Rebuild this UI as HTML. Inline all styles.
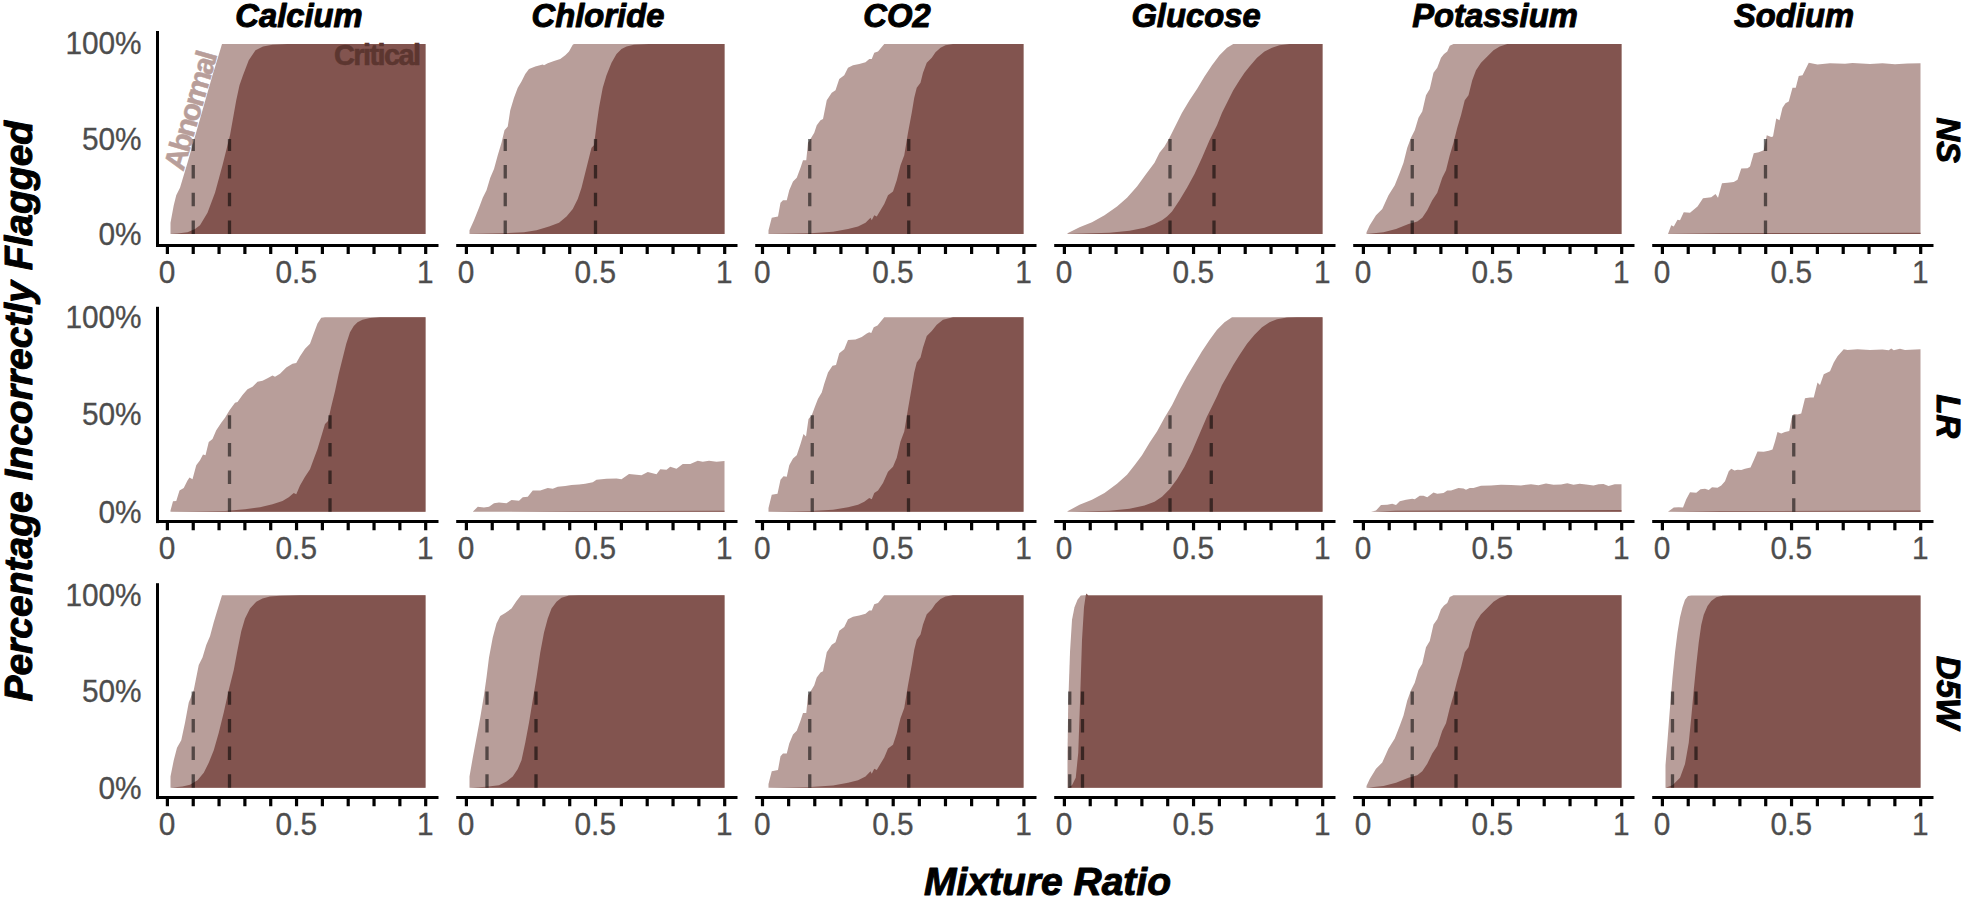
<!DOCTYPE html>
<html lang="en"><head><meta charset="utf-8"><title>Percentage Incorrectly Flagged by Mixture Ratio</title>
<style>html,body{margin:0;padding:0;background:#fff}svg{display:block}text{font-family:"Liberation Sans", Arial, Helvetica, sans-serif}</style></head><body>
<svg width="1964" height="899" viewBox="0 0 1964 899">
<rect width="1964" height="899" fill="#fff"/>
<g>
<polygon fill="#B89E9A" points="170.5,234 170.5,222.75 173.75,205.25 176.25,195.25 180,187.75 183.75,175.25 187.5,162.75 192.5,145.25 197.5,127.75 202.5,110.25 207.5,92.75 212.5,75.25 217.5,59 222,44 425.5,44 425.5,234"/>
<polygon fill="#82544F" points="170.5,234 177.5,233.5 187.5,232.25 195,229 200,225.25 207.5,212.75 215,192.75 222.5,165.25 230,135.25 236.25,100.25 239.5,85.25 243,75.25 248.75,60.25 255.5,50.25 263,46.5 272.5,44.75 287.5,44 425.5,44 425.5,234"/>
<line x1="193.25" y1="234" x2="193.25" y2="139" stroke="#000" stroke-opacity="0.55" stroke-width="3.3" stroke-dasharray="13.5 14.2"/>
<line x1="229.5" y1="234" x2="229.5" y2="139" stroke="#000" stroke-opacity="0.55" stroke-width="3.3" stroke-dasharray="13.5 14.2"/>
<path d="M156 245.4H438.5" stroke="#000" stroke-width="3" fill="none"/>
<path d="M167.4 245.4V254M193.23 245.4V254M219.06 245.4V254M244.89 245.4V254M270.72 245.4V254M296.55 245.4V254M322.38 245.4V254M348.21 245.4V254M374.04 245.4V254M399.87 245.4V254M425.7 245.4V254" stroke="#000" stroke-width="3.2" fill="none"/>
<text transform="translate(167.1 282.7) scale(1 1.03)" font-size="29.8" fill="#4D4D4D" stroke="#4D4D4D" stroke-width="0.3" text-anchor="middle">0</text>
<text transform="translate(296.25 282.7) scale(1 1.03)" font-size="29.8" fill="#4D4D4D" stroke="#4D4D4D" stroke-width="0.3" text-anchor="middle">0.5</text>
<text transform="translate(425.4 282.7) scale(1 1.03)" font-size="29.8" fill="#4D4D4D" stroke="#4D4D4D" stroke-width="0.3" text-anchor="middle">1</text>
</g>
<g>
<polygon fill="#B89E9A" points="469.5,234 469.5,230.25 474,220.25 479,207.75 482.75,197.75 486.5,190.25 490.25,177.75 494,169 497.75,155.25 501.5,142.75 504.5,130.25 507.75,126.5 510.25,110.25 514,97.75 517.75,87.75 521.5,81.5 525.25,74 529,69 535.25,66.5 542.75,64.5 544,65.25 547.75,63.25 554,61 560.25,59 565.25,55.25 569,51.5 572.75,44.75 574,44 724.5,44 724.5,234"/>
<polygon fill="#82544F" points="469.5,234 504,233.25 524,232.25 536.5,230.25 549,226.5 559,222.75 566.5,216.5 572.75,209 577.75,199 581.5,187.75 585.25,172.75 589,157.75 591.5,147.75 594,145.25 596.5,125.25 599,107.75 602.75,87.75 606.5,75.25 611.5,62.75 616.5,54 621.5,49 626.5,46.5 634,44.75 649,44 724.5,44 724.5,234"/>
<line x1="505.25" y1="234" x2="505.25" y2="139" stroke="#000" stroke-opacity="0.55" stroke-width="3.3" stroke-dasharray="13.5 14.2"/>
<line x1="595.5" y1="234" x2="595.5" y2="139" stroke="#000" stroke-opacity="0.55" stroke-width="3.3" stroke-dasharray="13.5 14.2"/>
<path d="M456.2 245.4H737.5" stroke="#000" stroke-width="3" fill="none"/>
<path d="M466.4 245.4V254M492.23 245.4V254M518.06 245.4V254M543.89 245.4V254M569.72 245.4V254M595.55 245.4V254M621.38 245.4V254M647.21 245.4V254M673.04 245.4V254M698.87 245.4V254M724.7 245.4V254" stroke="#000" stroke-width="3.2" fill="none"/>
<text transform="translate(466.1 282.7) scale(1 1.03)" font-size="29.8" fill="#4D4D4D" stroke="#4D4D4D" stroke-width="0.3" text-anchor="middle">0</text>
<text transform="translate(595.25 282.7) scale(1 1.03)" font-size="29.8" fill="#4D4D4D" stroke="#4D4D4D" stroke-width="0.3" text-anchor="middle">0.5</text>
<text transform="translate(724.4 282.7) scale(1 1.03)" font-size="29.8" fill="#4D4D4D" stroke="#4D4D4D" stroke-width="0.3" text-anchor="middle">1</text>
</g>
<g>
<polygon fill="#B89E9A" points="768.5,234 768.5,230.25 771.75,217.75 778,216.5 780.5,202.75 783,200.25 786.75,200.25 789.25,190.25 793,181.5 796.75,177.75 800.5,167.75 803,160.25 806.25,160.25 808,142.75 810.5,139 814.25,132.75 816.75,125.25 820.5,120.25 823,119 826.75,100.25 831.75,92.75 835.5,90.25 839.25,79 844.25,75.25 848,67.75 853,65.25 859.25,64 865.5,62.25 869.25,59 871.75,59 874.25,52.75 878,51.5 884.25,44 1023.5,44 1023.5,234"/>
<polygon fill="#82544F" points="768.5,234 810.5,233.25 833,231.75 848,229 858,226.5 865.5,222.75 870.5,217.75 871.75,220.25 874.25,215.25 876.75,216.5 880.5,210.25 884.25,204 888,195.25 893,191.5 896.75,180.25 900.5,165.25 904.25,155.25 908,132.75 911.75,112.75 914.25,97.75 916.75,87.75 920.5,82.75 923,72.75 926.75,62.75 931.75,57.75 935.5,52.25 940.5,47.75 945.5,45.25 953,44 1023.5,44 1023.5,234"/>
<line x1="809.75" y1="234" x2="809.75" y2="139" stroke="#000" stroke-opacity="0.55" stroke-width="3.3" stroke-dasharray="13.5 14.2"/>
<line x1="908.75" y1="234" x2="908.75" y2="139" stroke="#000" stroke-opacity="0.55" stroke-width="3.3" stroke-dasharray="13.5 14.2"/>
<path d="M755.2 245.4H1036.5" stroke="#000" stroke-width="3" fill="none"/>
<path d="M762.5 245.4V254M788.64 245.4V254M814.78 245.4V254M840.92 245.4V254M867.06 245.4V254M893.2 245.4V254M919.34 245.4V254M945.48 245.4V254M971.62 245.4V254M997.76 245.4V254M1023.9 245.4V254" stroke="#000" stroke-width="3.2" fill="none"/>
<text transform="translate(762.2 282.7) scale(1 1.03)" font-size="29.8" fill="#4D4D4D" stroke="#4D4D4D" stroke-width="0.3" text-anchor="middle">0</text>
<text transform="translate(892.9 282.7) scale(1 1.03)" font-size="29.8" fill="#4D4D4D" stroke="#4D4D4D" stroke-width="0.3" text-anchor="middle">0.5</text>
<text transform="translate(1023.6 282.7) scale(1 1.03)" font-size="29.8" fill="#4D4D4D" stroke="#4D4D4D" stroke-width="0.3" text-anchor="middle">1</text>
</g>
<g>
<polygon fill="#B89E9A" points="1067.5,233.25 1079.5,227.25 1092,222.25 1104.5,215.25 1117,206.5 1127,197.75 1137,186.5 1147,172.75 1154.5,162.75 1159.5,152.75 1164.5,146.5 1169.5,137.75 1174.5,127.75 1182,112.75 1189.5,100.25 1197,89 1204.5,76.5 1212,65.25 1219.5,55.25 1227,47.75 1233.25,44 1322.5,44 1322.5,234 1067.5,234"/>
<polygon fill="#82544F" points="1067.5,234 1109.5,232.75 1129.5,230.75 1144.5,227.75 1154.5,224 1162,220.25 1167,216.5 1172,211.5 1179.5,200.25 1187,187.75 1194.5,174 1202,157.75 1209.5,140.25 1217,125.25 1222,112.75 1227,102.75 1233.25,90.25 1239.5,80.25 1244.5,72.75 1249.5,66.5 1257,57.75 1264.5,51.5 1272,47.75 1279.5,45.25 1289.5,44 1322.5,44 1322.5,234"/>
<line x1="1170" y1="234" x2="1170" y2="139" stroke="#000" stroke-opacity="0.55" stroke-width="3.3" stroke-dasharray="13.5 14.2"/>
<line x1="1214" y1="234" x2="1214" y2="139" stroke="#000" stroke-opacity="0.55" stroke-width="3.3" stroke-dasharray="13.5 14.2"/>
<path d="M1054.2 245.4H1335.5" stroke="#000" stroke-width="3" fill="none"/>
<path d="M1064.4 245.4V254M1090.23 245.4V254M1116.06 245.4V254M1141.89 245.4V254M1167.72 245.4V254M1193.55 245.4V254M1219.38 245.4V254M1245.21 245.4V254M1271.04 245.4V254M1296.87 245.4V254M1322.7 245.4V254" stroke="#000" stroke-width="3.2" fill="none"/>
<text transform="translate(1064.1 282.7) scale(1 1.03)" font-size="29.8" fill="#4D4D4D" stroke="#4D4D4D" stroke-width="0.3" text-anchor="middle">0</text>
<text transform="translate(1193.25 282.7) scale(1 1.03)" font-size="29.8" fill="#4D4D4D" stroke="#4D4D4D" stroke-width="0.3" text-anchor="middle">0.5</text>
<text transform="translate(1322.4 282.7) scale(1 1.03)" font-size="29.8" fill="#4D4D4D" stroke="#4D4D4D" stroke-width="0.3" text-anchor="middle">1</text>
</g>
<g>
<polygon fill="#B89E9A" points="1366.5,234 1366.5,232.25 1369.75,225.25 1376,215.25 1382.25,209 1388.5,195.25 1394.75,185.25 1399.75,172.75 1403.5,162.75 1407.25,147.75 1411,137.75 1414.75,130.25 1418.5,117.75 1422.25,111.5 1426,95.25 1429.75,89 1433.5,72.75 1437.25,67.75 1441,57.75 1444,54 1447.25,51.5 1449.75,45.75 1453.5,44 1621.5,44 1621.5,234"/>
<polygon fill="#82544F" points="1366.5,234 1383.5,232.25 1396,229 1408.5,224 1417.25,221.5 1422.25,217.75 1427.25,210.25 1432.25,200.25 1437.25,192.75 1442.25,177.75 1446,170.25 1449.75,155.25 1453.5,142.75 1457.25,127.75 1461,115.25 1464.75,100.25 1468.5,95.25 1472.25,80.25 1476,70.25 1481,62.75 1487.25,56.5 1493.5,50.25 1499.75,46.5 1507.25,44 1621.5,44 1621.5,234"/>
<line x1="1412.25" y1="234" x2="1412.25" y2="139" stroke="#000" stroke-opacity="0.55" stroke-width="3.3" stroke-dasharray="13.5 14.2"/>
<line x1="1456" y1="234" x2="1456" y2="139" stroke="#000" stroke-opacity="0.55" stroke-width="3.3" stroke-dasharray="13.5 14.2"/>
<path d="M1353.2 245.4H1634.5" stroke="#000" stroke-width="3" fill="none"/>
<path d="M1363.4 245.4V254M1389.23 245.4V254M1415.06 245.4V254M1440.89 245.4V254M1466.72 245.4V254M1492.55 245.4V254M1518.38 245.4V254M1544.21 245.4V254M1570.04 245.4V254M1595.87 245.4V254M1621.7 245.4V254" stroke="#000" stroke-width="3.2" fill="none"/>
<text transform="translate(1363.1 282.7) scale(1 1.03)" font-size="29.8" fill="#4D4D4D" stroke="#4D4D4D" stroke-width="0.3" text-anchor="middle">0</text>
<text transform="translate(1492.25 282.7) scale(1 1.03)" font-size="29.8" fill="#4D4D4D" stroke="#4D4D4D" stroke-width="0.3" text-anchor="middle">0.5</text>
<text transform="translate(1621.4 282.7) scale(1 1.03)" font-size="29.8" fill="#4D4D4D" stroke="#4D4D4D" stroke-width="0.3" text-anchor="middle">1</text>
</g>
<g>
<polygon fill="#B89E9A" points="1668,234 1671.25,225.25 1673.75,226.5 1677.5,219.75 1680,220.25 1683.75,212.25 1690,212.75 1697.5,206.5 1703,198.25 1711.25,197.25 1715.5,194 1718,197.75 1722,183.25 1727.5,182.75 1733.75,182 1737.5,179.75 1741.25,168.5 1747.5,168.25 1750,166.5 1753.75,153.25 1758.75,152.25 1763.75,150.25 1766.75,135.25 1771.25,137 1773,136.5 1776.25,118.5 1779.5,120.25 1782.5,107.75 1785.5,103.25 1788.75,101.5 1792.5,87.75 1795.75,87.75 1798.75,76 1802.5,75.25 1808.75,62.75 1817.5,64.5 1830,63.25 1845,63.75 1852.5,63 1870,64 1882.5,63.25 1895,64.25 1907.5,63.5 1920.5,63.25 1920.5,234"/>
<polygon fill="#82544F" points="1668,234 1720,233.25 1820,233 1920.5,232.75 1920.5,234"/>
<line x1="1765.5" y1="234" x2="1765.5" y2="139" stroke="#000" stroke-opacity="0.55" stroke-width="3.3" stroke-dasharray="13.5 14.2"/>
<path d="M1652.2 245.4H1933.5" stroke="#000" stroke-width="3" fill="none"/>
<path d="M1662.4 245.4V254M1688.23 245.4V254M1714.06 245.4V254M1739.89 245.4V254M1765.72 245.4V254M1791.55 245.4V254M1817.38 245.4V254M1843.21 245.4V254M1869.04 245.4V254M1894.87 245.4V254M1920.7 245.4V254" stroke="#000" stroke-width="3.2" fill="none"/>
<text transform="translate(1662.1 282.7) scale(1 1.03)" font-size="29.8" fill="#4D4D4D" stroke="#4D4D4D" stroke-width="0.3" text-anchor="middle">0</text>
<text transform="translate(1791.25 282.7) scale(1 1.03)" font-size="29.8" fill="#4D4D4D" stroke="#4D4D4D" stroke-width="0.3" text-anchor="middle">0.5</text>
<text transform="translate(1920.4 282.7) scale(1 1.03)" font-size="29.8" fill="#4D4D4D" stroke="#4D4D4D" stroke-width="0.3" text-anchor="middle">1</text>
</g>
<path d="M157.5 31V246.9" stroke="#000" stroke-width="3" fill="none"/>
<text transform="translate(141.6 245.2) scale(1 1.03)" font-size="29.8" fill="#4D4D4D" stroke="#4D4D4D" stroke-width="0.3" text-anchor="end">0%</text>
<text transform="translate(141.6 149.7) scale(1 1.03)" font-size="29.8" fill="#4D4D4D" stroke="#4D4D4D" stroke-width="0.3" text-anchor="end">50%</text>
<text transform="translate(141.6 54) scale(1 1.03)" font-size="29.8" fill="#4D4D4D" stroke="#4D4D4D" stroke-width="0.3" text-anchor="end">100%</text>
<text transform="translate(1937 140.2) rotate(90) scale(1 1.015)" font-size="32.75" font-weight="bold" font-style="italic" text-anchor="middle" fill="#000" stroke="#000" stroke-width="1" stroke-linejoin="round">NS</text>
<g>
<polygon fill="#B89E9A" points="170.5,511.8 170.5,510.55 173,501.26 176.25,501.01 179.5,490.47 183.75,487.96 187.5,480.43 189.5,477.42 192.5,479.17 196.25,465.37 200,460.35 203,454.58 205.5,455.33 208.75,442.03 212.5,439.02 216.25,430.24 221.25,422.71 225,417.69 229.5,410.16 235,402.63 237.5,401.88 242.5,395.1 247.5,389.33 252.5,386.82 257.5,381.8 262.5,380.79 267.5,378.29 272.5,375.52 275,376.78 280,373.77 286.25,367.49 292.5,363.73 296.25,362.98 300,356.2 305,348.67 310,343.65 313.75,333.61 317.5,323.57 321.25,317.8 325,317.3 425.5,317.3 425.5,511.8"/>
<polygon fill="#82544F" points="170.5,511.8 225,511.05 245,509.29 260,507.28 272.5,504.27 282.5,501.01 288.75,497.24 293.75,492.98 296.25,494.23 300,485.45 305,476.66 310,469.14 313.75,459.1 317.5,449.06 321.25,436.51 325,423.96 328,420.95 331.25,406.39 335,391.34 338.75,373.77 342.5,358.71 346.25,343.65 350,332.36 353.75,326.08 357.5,322.32 362.5,319.81 370,318.05 380,317.3 425.5,317.3 425.5,511.8"/>
<line x1="229.5" y1="511.8" x2="229.5" y2="414.55" stroke="#000" stroke-opacity="0.55" stroke-width="3.3" stroke-dasharray="13.5 14.2"/>
<line x1="330" y1="511.8" x2="330" y2="414.55" stroke="#000" stroke-opacity="0.55" stroke-width="3.3" stroke-dasharray="13.5 14.2"/>
<path d="M156 521.6H438.5" stroke="#000" stroke-width="3" fill="none"/>
<path d="M167.4 521.6V530.2M193.23 521.6V530.2M219.06 521.6V530.2M244.89 521.6V530.2M270.72 521.6V530.2M296.55 521.6V530.2M322.38 521.6V530.2M348.21 521.6V530.2M374.04 521.6V530.2M399.87 521.6V530.2M425.7 521.6V530.2" stroke="#000" stroke-width="3.2" fill="none"/>
<text transform="translate(167.1 558.9) scale(1 1.03)" font-size="29.8" fill="#4D4D4D" stroke="#4D4D4D" stroke-width="0.3" text-anchor="middle">0</text>
<text transform="translate(296.25 558.9) scale(1 1.03)" font-size="29.8" fill="#4D4D4D" stroke="#4D4D4D" stroke-width="0.3" text-anchor="middle">0.5</text>
<text transform="translate(425.4 558.9) scale(1 1.03)" font-size="29.8" fill="#4D4D4D" stroke="#4D4D4D" stroke-width="0.3" text-anchor="middle">1</text>
</g>
<g>
<polygon fill="#B89E9A" points="472.75,511.8 477.75,506.78 484,507.53 489,506.78 494,503.27 499,502.51 506.5,503.27 511.5,500 519,500.76 522.75,497.24 527.75,496.74 532.75,490.47 540.25,490.47 547.75,487.96 552.75,488.71 557.75,486.7 565.25,485.95 571.5,484.95 579,484.44 585.25,483.69 592.75,482.19 596.5,479.68 606.5,478.67 616.5,478.42 621.5,479.17 629,473.9 636.5,474.66 641.5,475.16 647.75,471.9 656.5,474.15 660.25,469.14 666.5,469.64 670.25,466.63 676.5,468.63 682.75,464.12 690.25,464.12 697.75,460.85 702.75,461.86 709,460.85 716.5,461.86 724.5,461.1 724.5,511.8"/>
<polygon fill="#82544F" points="499,511.8 574,511.3 724.5,510.8 724.5,511.8"/>
<path d="M456.2 521.6H737.5" stroke="#000" stroke-width="3" fill="none"/>
<path d="M466.4 521.6V530.2M492.23 521.6V530.2M518.06 521.6V530.2M543.89 521.6V530.2M569.72 521.6V530.2M595.55 521.6V530.2M621.38 521.6V530.2M647.21 521.6V530.2M673.04 521.6V530.2M698.87 521.6V530.2M724.7 521.6V530.2" stroke="#000" stroke-width="3.2" fill="none"/>
<text transform="translate(466.1 558.9) scale(1 1.03)" font-size="29.8" fill="#4D4D4D" stroke="#4D4D4D" stroke-width="0.3" text-anchor="middle">0</text>
<text transform="translate(595.25 558.9) scale(1 1.03)" font-size="29.8" fill="#4D4D4D" stroke="#4D4D4D" stroke-width="0.3" text-anchor="middle">0.5</text>
<text transform="translate(724.4 558.9) scale(1 1.03)" font-size="29.8" fill="#4D4D4D" stroke="#4D4D4D" stroke-width="0.3" text-anchor="middle">1</text>
</g>
<g>
<polygon fill="#B89E9A" points="768.5,511.8 768.5,508.04 771.75,494.73 777.5,493.73 780.5,479.68 783.5,476.16 786.75,476.66 789.25,465.37 793,458.59 796.75,455.33 800.5,444.04 803.5,434 806,436.51 808.5,418.94 811.75,415.18 815,406.39 818,398.86 821.75,392.59 824.25,383.81 828,372.51 832.5,365.74 836,364.98 839.25,353.19 844.25,349.17 848,339.89 855.5,339.39 861.75,336.88 866.75,333.61 869.25,332.36 871.25,333.11 873.75,327.34 877.5,325.58 884.25,317.3 1023.5,317.3 1023.5,511.8"/>
<polygon fill="#82544F" points="768.5,511.8 810.5,511.05 833,509.79 848,507.28 858,504.77 864.25,501.76 869.25,498 871.75,499.25 874.25,492.98 878,490.47 883,482.94 888,471.65 893,466.63 896.75,457.84 900.5,441.53 904.25,431.49 908,408.9 911.75,387.57 914.25,372.51 916.75,362.47 920.5,357.45 923,347.42 926.75,336.12 931.75,331.1 936.75,324.83 943,319.81 953,317.3 1023.5,317.3 1023.5,511.8"/>
<line x1="812.25" y1="511.8" x2="812.25" y2="414.55" stroke="#000" stroke-opacity="0.55" stroke-width="3.3" stroke-dasharray="13.5 14.2"/>
<line x1="908.5" y1="511.8" x2="908.5" y2="414.55" stroke="#000" stroke-opacity="0.55" stroke-width="3.3" stroke-dasharray="13.5 14.2"/>
<path d="M755.2 521.6H1036.5" stroke="#000" stroke-width="3" fill="none"/>
<path d="M762.5 521.6V530.2M788.64 521.6V530.2M814.78 521.6V530.2M840.92 521.6V530.2M867.06 521.6V530.2M893.2 521.6V530.2M919.34 521.6V530.2M945.48 521.6V530.2M971.62 521.6V530.2M997.76 521.6V530.2M1023.9 521.6V530.2" stroke="#000" stroke-width="3.2" fill="none"/>
<text transform="translate(762.2 558.9) scale(1 1.03)" font-size="29.8" fill="#4D4D4D" stroke="#4D4D4D" stroke-width="0.3" text-anchor="middle">0</text>
<text transform="translate(892.9 558.9) scale(1 1.03)" font-size="29.8" fill="#4D4D4D" stroke="#4D4D4D" stroke-width="0.3" text-anchor="middle">0.5</text>
<text transform="translate(1023.6 558.9) scale(1 1.03)" font-size="29.8" fill="#4D4D4D" stroke="#4D4D4D" stroke-width="0.3" text-anchor="middle">1</text>
</g>
<g>
<polygon fill="#B89E9A" points="1067.5,511.3 1079.5,504.77 1092,499.75 1104.5,492.98 1117,483.69 1127,474.66 1134.5,465.37 1142,455.33 1149.5,442.78 1157,431.49 1164.5,417.69 1172,405.14 1179.5,390.08 1187,376.28 1194.5,363.73 1202,351.18 1209.5,339.89 1217,329.85 1224.5,322.32 1232,317.3 1322.5,317.3 1322.5,511.8 1067.5,511.8"/>
<polygon fill="#82544F" points="1067.5,511.8 1109.5,510.8 1129.5,508.79 1144.5,505.53 1154.5,501.76 1162,496.74 1169.5,489.21 1177,479.17 1184.5,466.63 1192,451.57 1199.5,434 1207,416.43 1212,406.39 1217,396.35 1222,385.06 1227,376.28 1233.25,364.98 1239.5,354.95 1247,343.65 1254.5,334.87 1262,327.34 1269.5,322.32 1277,319.31 1287,317.55 1297,317.3 1322.5,317.3 1322.5,511.8"/>
<line x1="1170" y1="511.8" x2="1170" y2="414.55" stroke="#000" stroke-opacity="0.55" stroke-width="3.3" stroke-dasharray="13.5 14.2"/>
<line x1="1211.25" y1="511.8" x2="1211.25" y2="414.55" stroke="#000" stroke-opacity="0.55" stroke-width="3.3" stroke-dasharray="13.5 14.2"/>
<path d="M1054.2 521.6H1335.5" stroke="#000" stroke-width="3" fill="none"/>
<path d="M1064.4 521.6V530.2M1090.23 521.6V530.2M1116.06 521.6V530.2M1141.89 521.6V530.2M1167.72 521.6V530.2M1193.55 521.6V530.2M1219.38 521.6V530.2M1245.21 521.6V530.2M1271.04 521.6V530.2M1296.87 521.6V530.2M1322.7 521.6V530.2" stroke="#000" stroke-width="3.2" fill="none"/>
<text transform="translate(1064.1 558.9) scale(1 1.03)" font-size="29.8" fill="#4D4D4D" stroke="#4D4D4D" stroke-width="0.3" text-anchor="middle">0</text>
<text transform="translate(1193.25 558.9) scale(1 1.03)" font-size="29.8" fill="#4D4D4D" stroke="#4D4D4D" stroke-width="0.3" text-anchor="middle">0.5</text>
<text transform="translate(1322.4 558.9) scale(1 1.03)" font-size="29.8" fill="#4D4D4D" stroke="#4D4D4D" stroke-width="0.3" text-anchor="middle">1</text>
</g>
<g>
<polygon fill="#B89E9A" points="1371,511.8 1376,510.55 1381,505.02 1387.25,504.77 1392.25,503.77 1396,505.02 1399.75,501.26 1406,499.75 1412.25,498.75 1414.75,499.25 1419.75,495.74 1423.5,495.74 1427.25,497.24 1433.5,492.48 1437.25,493.73 1443.5,492.98 1447.25,490.47 1451,490.47 1458.5,487.96 1463.5,488.46 1466,489.71 1469.75,487.96 1473.5,487.96 1481,485.7 1491,485.45 1501,484.7 1511,484.95 1521,485.45 1531,484.19 1538.5,485.2 1546,483.44 1553.5,484.7 1561,484.44 1567.25,483.19 1573.5,484.7 1579.75,483.69 1586,484.44 1593.5,485.45 1598.5,484.19 1603.5,483.94 1608.5,485.95 1614.75,484.19 1621.5,484.19 1621.5,511.8"/>
<polygon fill="#82544F" points="1373.5,511.8 1396,510.8 1446,510.55 1546,510.29 1621.5,510.04 1621.5,511.8"/>
<path d="M1353.2 521.6H1634.5" stroke="#000" stroke-width="3" fill="none"/>
<path d="M1363.4 521.6V530.2M1389.23 521.6V530.2M1415.06 521.6V530.2M1440.89 521.6V530.2M1466.72 521.6V530.2M1492.55 521.6V530.2M1518.38 521.6V530.2M1544.21 521.6V530.2M1570.04 521.6V530.2M1595.87 521.6V530.2M1621.7 521.6V530.2" stroke="#000" stroke-width="3.2" fill="none"/>
<text transform="translate(1363.1 558.9) scale(1 1.03)" font-size="29.8" fill="#4D4D4D" stroke="#4D4D4D" stroke-width="0.3" text-anchor="middle">0</text>
<text transform="translate(1492.25 558.9) scale(1 1.03)" font-size="29.8" fill="#4D4D4D" stroke="#4D4D4D" stroke-width="0.3" text-anchor="middle">0.5</text>
<text transform="translate(1621.4 558.9) scale(1 1.03)" font-size="29.8" fill="#4D4D4D" stroke="#4D4D4D" stroke-width="0.3" text-anchor="middle">1</text>
</g>
<g>
<polygon fill="#B89E9A" points="1668,511.8 1673.75,507.53 1678.75,507.28 1683,507.53 1686.25,499.25 1690,492.22 1696.25,492.73 1700.5,489.21 1705,488.71 1708.75,489.97 1712,487.21 1717.5,487.71 1721.25,485.45 1725,481.18 1728.75,471.14 1731.25,468.63 1734.5,470.39 1737.5,469.64 1741.25,469.89 1745,468.63 1750.5,467.38 1753.75,460.35 1757.5,451.57 1763.75,451.82 1768.75,450.81 1772.5,449.56 1775,441.53 1777.5,431.99 1781.25,433.5 1785,431.99 1789.25,430.99 1791.75,417.69 1793.75,413.92 1797.5,414.42 1801.25,413.42 1805,398.36 1810,397.61 1813.75,397.61 1817.5,382.55 1820,385.06 1823.75,374.27 1830,371.26 1833.75,362.47 1837.5,356.2 1843.75,349.17 1847.5,349.93 1857.5,349.17 1870,349.93 1882.5,349.42 1888.75,350.18 1891.25,348.42 1893.75,350.18 1900,348.67 1905,349.93 1920.5,349.17 1920.5,511.8"/>
<polygon fill="#82544F" points="1668,511.8 1720,511.05 1920.5,510.55 1920.5,511.8"/>
<line x1="1793.75" y1="511.8" x2="1793.75" y2="414.55" stroke="#000" stroke-opacity="0.55" stroke-width="3.3" stroke-dasharray="13.5 14.2"/>
<path d="M1652.2 521.6H1933.5" stroke="#000" stroke-width="3" fill="none"/>
<path d="M1662.4 521.6V530.2M1688.23 521.6V530.2M1714.06 521.6V530.2M1739.89 521.6V530.2M1765.72 521.6V530.2M1791.55 521.6V530.2M1817.38 521.6V530.2M1843.21 521.6V530.2M1869.04 521.6V530.2M1894.87 521.6V530.2M1920.7 521.6V530.2" stroke="#000" stroke-width="3.2" fill="none"/>
<text transform="translate(1662.1 558.9) scale(1 1.03)" font-size="29.8" fill="#4D4D4D" stroke="#4D4D4D" stroke-width="0.3" text-anchor="middle">0</text>
<text transform="translate(1791.25 558.9) scale(1 1.03)" font-size="29.8" fill="#4D4D4D" stroke="#4D4D4D" stroke-width="0.3" text-anchor="middle">0.5</text>
<text transform="translate(1920.4 558.9) scale(1 1.03)" font-size="29.8" fill="#4D4D4D" stroke="#4D4D4D" stroke-width="0.3" text-anchor="middle">1</text>
</g>
<path d="M157.5 306.8V523.1" stroke="#000" stroke-width="3" fill="none"/>
<text transform="translate(141.6 523.1) scale(1 1.03)" font-size="29.8" fill="#4D4D4D" stroke="#4D4D4D" stroke-width="0.3" text-anchor="end">0%</text>
<text transform="translate(141.6 425.3) scale(1 1.03)" font-size="29.8" fill="#4D4D4D" stroke="#4D4D4D" stroke-width="0.3" text-anchor="end">50%</text>
<text transform="translate(141.6 327.6) scale(1 1.03)" font-size="29.8" fill="#4D4D4D" stroke="#4D4D4D" stroke-width="0.3" text-anchor="end">100%</text>
<text transform="translate(1937 416.2) rotate(90) scale(1 1.015)" font-size="32.75" font-weight="bold" font-style="italic" text-anchor="middle" fill="#000" stroke="#000" stroke-width="1" stroke-linejoin="round">LR</text>
<g>
<polygon fill="#B89E9A" points="170.5,787.8 170.5,776.52 173.75,760.23 177,747.7 181.25,740.18 185,722.63 188.75,702.58 193.75,690.05 198.75,664.98 202.5,657.46 206.25,644.93 210,636.16 213.75,622.37 217.5,609.84 222,595.3 425.5,595.3 425.5,787.8"/>
<polygon fill="#82544F" points="170.5,787.8 182.5,786.55 190,784.79 197.5,780.28 203.75,772.76 208.75,762.73 213.75,750.2 218.75,732.66 223.75,712.6 228.75,690.05 233.75,669.99 237.5,649.94 241.25,631.14 245,618.61 250,608.58 256.25,601.82 262.5,598.56 270,596.55 280,595.8 300,595.3 425.5,595.3 425.5,787.8"/>
<line x1="193.25" y1="787.8" x2="193.25" y2="691.55" stroke="#000" stroke-opacity="0.55" stroke-width="3.3" stroke-dasharray="13.5 14.2"/>
<line x1="229.5" y1="787.8" x2="229.5" y2="691.55" stroke="#000" stroke-opacity="0.55" stroke-width="3.3" stroke-dasharray="13.5 14.2"/>
<path d="M156 797.6H438.5" stroke="#000" stroke-width="3" fill="none"/>
<path d="M167.4 797.6V806.2M193.23 797.6V806.2M219.06 797.6V806.2M244.89 797.6V806.2M270.72 797.6V806.2M296.55 797.6V806.2M322.38 797.6V806.2M348.21 797.6V806.2M374.04 797.6V806.2M399.87 797.6V806.2M425.7 797.6V806.2" stroke="#000" stroke-width="3.2" fill="none"/>
<text transform="translate(167.1 834.9) scale(1 1.03)" font-size="29.8" fill="#4D4D4D" stroke="#4D4D4D" stroke-width="0.3" text-anchor="middle">0</text>
<text transform="translate(296.25 834.9) scale(1 1.03)" font-size="29.8" fill="#4D4D4D" stroke="#4D4D4D" stroke-width="0.3" text-anchor="middle">0.5</text>
<text transform="translate(425.4 834.9) scale(1 1.03)" font-size="29.8" fill="#4D4D4D" stroke="#4D4D4D" stroke-width="0.3" text-anchor="middle">1</text>
</g>
<g>
<polygon fill="#B89E9A" points="469.5,787.8 469.5,776.52 472.75,757.72 476.5,737.67 480.25,717.62 484,695.06 486.5,677.51 489,657.46 492.75,637.41 496.5,623.62 500.25,616.1 505.25,613.1 511.5,608.58 516.5,601.06 521,595.3 724.5,595.3 724.5,787.8"/>
<polygon fill="#82544F" points="469.5,787.8 486.5,786.8 499,785.29 506.5,781.53 512.75,776.52 517.75,769 521.5,760.23 525.25,742.68 529,722.63 532.75,700.07 536.5,677.51 540.25,652.45 544,632.4 547.75,618.61 551.5,608.58 556.5,601.82 561.5,597.81 569,595.55 579,595.3 724.5,595.3 724.5,787.8"/>
<line x1="487" y1="787.8" x2="487" y2="691.55" stroke="#000" stroke-opacity="0.55" stroke-width="3.3" stroke-dasharray="13.5 14.2"/>
<line x1="536" y1="787.8" x2="536" y2="691.55" stroke="#000" stroke-opacity="0.55" stroke-width="3.3" stroke-dasharray="13.5 14.2"/>
<path d="M456.2 797.6H737.5" stroke="#000" stroke-width="3" fill="none"/>
<path d="M466.4 797.6V806.2M492.23 797.6V806.2M518.06 797.6V806.2M543.89 797.6V806.2M569.72 797.6V806.2M595.55 797.6V806.2M621.38 797.6V806.2M647.21 797.6V806.2M673.04 797.6V806.2M698.87 797.6V806.2M724.7 797.6V806.2" stroke="#000" stroke-width="3.2" fill="none"/>
<text transform="translate(466.1 834.9) scale(1 1.03)" font-size="29.8" fill="#4D4D4D" stroke="#4D4D4D" stroke-width="0.3" text-anchor="middle">0</text>
<text transform="translate(595.25 834.9) scale(1 1.03)" font-size="29.8" fill="#4D4D4D" stroke="#4D4D4D" stroke-width="0.3" text-anchor="middle">0.5</text>
<text transform="translate(724.4 834.9) scale(1 1.03)" font-size="29.8" fill="#4D4D4D" stroke="#4D4D4D" stroke-width="0.3" text-anchor="middle">1</text>
</g>
<g>
<polygon fill="#B89E9A" points="768.5,787.8 768.5,784 771.75,771.34 778,770.07 780.5,756.14 783,753.61 786.75,753.61 789.25,743.47 793,734.61 796.75,730.81 800.5,720.68 803,713.08 806.25,713.08 808,695.35 810.5,691.55 814.25,685.22 816.75,677.62 820.5,672.55 823,671.29 826.75,652.29 831.75,644.69 835.5,642.16 839.25,630.76 844.25,626.96 848,619.36 853,616.83 859.25,615.56 865.5,613.79 869.25,610.5 871.75,610.5 874.25,604.17 878,602.9 884.25,595.3 1023.5,595.3 1023.5,787.8"/>
<polygon fill="#82544F" points="768.5,787.8 810.5,787.04 833,785.52 848,782.73 858,780.2 865.5,776.4 870.5,771.34 871.75,773.87 874.25,768.8 876.75,770.07 880.5,763.74 884.25,757.41 888,748.54 893,744.74 896.75,733.34 900.5,718.15 904.25,708.01 908,685.22 911.75,664.95 914.25,649.76 916.75,639.63 920.5,634.56 923,624.43 926.75,614.3 931.75,609.23 935.5,603.66 940.5,599.1 945.5,596.57 953,595.3 1023.5,595.3 1023.5,787.8"/>
<line x1="809.75" y1="787.8" x2="809.75" y2="691.55" stroke="#000" stroke-opacity="0.55" stroke-width="3.3" stroke-dasharray="13.5 14.2"/>
<line x1="908.75" y1="787.8" x2="908.75" y2="691.55" stroke="#000" stroke-opacity="0.55" stroke-width="3.3" stroke-dasharray="13.5 14.2"/>
<path d="M755.2 797.6H1036.5" stroke="#000" stroke-width="3" fill="none"/>
<path d="M762.5 797.6V806.2M788.64 797.6V806.2M814.78 797.6V806.2M840.92 797.6V806.2M867.06 797.6V806.2M893.2 797.6V806.2M919.34 797.6V806.2M945.48 797.6V806.2M971.62 797.6V806.2M997.76 797.6V806.2M1023.9 797.6V806.2" stroke="#000" stroke-width="3.2" fill="none"/>
<text transform="translate(762.2 834.9) scale(1 1.03)" font-size="29.8" fill="#4D4D4D" stroke="#4D4D4D" stroke-width="0.3" text-anchor="middle">0</text>
<text transform="translate(892.9 834.9) scale(1 1.03)" font-size="29.8" fill="#4D4D4D" stroke="#4D4D4D" stroke-width="0.3" text-anchor="middle">0.5</text>
<text transform="translate(1023.6 834.9) scale(1 1.03)" font-size="29.8" fill="#4D4D4D" stroke="#4D4D4D" stroke-width="0.3" text-anchor="middle">1</text>
</g>
<g>
<polygon fill="#B89E9A" points="1067.5,787.8 1067.5,752.71 1068.25,702.58 1070,652.45 1072,619.86 1074.5,607.33 1077.5,599.81 1080.75,595.55 1084.5,595.3 1322.5,595.3 1322.5,787.8"/>
<polygon fill="#82544F" points="1067.5,787.8 1072,785.29 1075.75,777.77 1078.25,752.71 1080,702.58 1082,639.92 1084,607.33 1085.75,595.3 1086.5,593.55 1088.25,595.55 1322.5,595.55 1322.5,787.8"/>
<line x1="1069.75" y1="787.8" x2="1069.75" y2="691.55" stroke="#000" stroke-opacity="0.55" stroke-width="3.3" stroke-dasharray="13.5 14.2"/>
<line x1="1082.5" y1="787.8" x2="1082.5" y2="691.55" stroke="#000" stroke-opacity="0.55" stroke-width="3.3" stroke-dasharray="13.5 14.2"/>
<path d="M1054.2 797.6H1335.5" stroke="#000" stroke-width="3" fill="none"/>
<path d="M1064.4 797.6V806.2M1090.23 797.6V806.2M1116.06 797.6V806.2M1141.89 797.6V806.2M1167.72 797.6V806.2M1193.55 797.6V806.2M1219.38 797.6V806.2M1245.21 797.6V806.2M1271.04 797.6V806.2M1296.87 797.6V806.2M1322.7 797.6V806.2" stroke="#000" stroke-width="3.2" fill="none"/>
<text transform="translate(1064.1 834.9) scale(1 1.03)" font-size="29.8" fill="#4D4D4D" stroke="#4D4D4D" stroke-width="0.3" text-anchor="middle">0</text>
<text transform="translate(1193.25 834.9) scale(1 1.03)" font-size="29.8" fill="#4D4D4D" stroke="#4D4D4D" stroke-width="0.3" text-anchor="middle">0.5</text>
<text transform="translate(1322.4 834.9) scale(1 1.03)" font-size="29.8" fill="#4D4D4D" stroke="#4D4D4D" stroke-width="0.3" text-anchor="middle">1</text>
</g>
<g>
<polygon fill="#B89E9A" points="1366.5,787.8 1366.5,786.03 1369.75,778.93 1376,768.8 1382.25,762.47 1388.5,748.54 1394.75,738.41 1399.75,725.74 1403.5,715.61 1407.25,700.42 1411,690.28 1414.75,682.68 1418.5,670.02 1422.25,663.69 1426,647.22 1429.75,640.89 1433.5,624.43 1437.25,619.36 1441,609.23 1444,605.43 1447.25,602.9 1449.75,597.07 1453.5,595.3 1621.5,595.3 1621.5,787.8"/>
<polygon fill="#82544F" points="1366.5,787.8 1383.5,786.03 1396,782.73 1408.5,777.67 1417.25,775.14 1422.25,771.34 1427.25,763.74 1432.25,753.61 1437.25,746.01 1442.25,730.81 1446,723.21 1449.75,708.01 1453.5,695.35 1457.25,680.15 1461,667.49 1464.75,652.29 1468.5,647.22 1472.25,632.03 1476,621.9 1481,614.3 1487.25,607.96 1493.5,601.63 1499.75,597.83 1507.25,595.3 1621.5,595.3 1621.5,787.8"/>
<line x1="1412.25" y1="787.8" x2="1412.25" y2="691.55" stroke="#000" stroke-opacity="0.55" stroke-width="3.3" stroke-dasharray="13.5 14.2"/>
<line x1="1456" y1="787.8" x2="1456" y2="691.55" stroke="#000" stroke-opacity="0.55" stroke-width="3.3" stroke-dasharray="13.5 14.2"/>
<path d="M1353.2 797.6H1634.5" stroke="#000" stroke-width="3" fill="none"/>
<path d="M1363.4 797.6V806.2M1389.23 797.6V806.2M1415.06 797.6V806.2M1440.89 797.6V806.2M1466.72 797.6V806.2M1492.55 797.6V806.2M1518.38 797.6V806.2M1544.21 797.6V806.2M1570.04 797.6V806.2M1595.87 797.6V806.2M1621.7 797.6V806.2" stroke="#000" stroke-width="3.2" fill="none"/>
<text transform="translate(1363.1 834.9) scale(1 1.03)" font-size="29.8" fill="#4D4D4D" stroke="#4D4D4D" stroke-width="0.3" text-anchor="middle">0</text>
<text transform="translate(1492.25 834.9) scale(1 1.03)" font-size="29.8" fill="#4D4D4D" stroke="#4D4D4D" stroke-width="0.3" text-anchor="middle">0.5</text>
<text transform="translate(1621.4 834.9) scale(1 1.03)" font-size="29.8" fill="#4D4D4D" stroke="#4D4D4D" stroke-width="0.3" text-anchor="middle">1</text>
</g>
<g>
<polygon fill="#B89E9A" points="1665.5,787.8 1665.5,765.24 1667.5,740.18 1670,707.59 1672.5,677.51 1675,652.45 1677.5,632.4 1680,617.36 1682.5,607.33 1685,599.81 1688,596.05 1691.25,595.55 1920.5,595.55 1920.5,787.8"/>
<polygon fill="#82544F" points="1665.5,787.8 1672.5,785.29 1680,777.77 1685,763.99 1688.75,742.68 1691.25,717.62 1693.75,690.05 1696.25,664.98 1698.75,642.42 1701.25,624.88 1703.75,614.85 1707.5,606.08 1711.25,601.06 1716.25,597.31 1722.5,595.8 1730,595.55 1920.5,595.55 1920.5,787.8"/>
<line x1="1672.5" y1="787.8" x2="1672.5" y2="691.55" stroke="#000" stroke-opacity="0.55" stroke-width="3.3" stroke-dasharray="13.5 14.2"/>
<line x1="1696" y1="787.8" x2="1696" y2="691.55" stroke="#000" stroke-opacity="0.55" stroke-width="3.3" stroke-dasharray="13.5 14.2"/>
<path d="M1652.2 797.6H1933.5" stroke="#000" stroke-width="3" fill="none"/>
<path d="M1662.4 797.6V806.2M1688.23 797.6V806.2M1714.06 797.6V806.2M1739.89 797.6V806.2M1765.72 797.6V806.2M1791.55 797.6V806.2M1817.38 797.6V806.2M1843.21 797.6V806.2M1869.04 797.6V806.2M1894.87 797.6V806.2M1920.7 797.6V806.2" stroke="#000" stroke-width="3.2" fill="none"/>
<text transform="translate(1662.1 834.9) scale(1 1.03)" font-size="29.8" fill="#4D4D4D" stroke="#4D4D4D" stroke-width="0.3" text-anchor="middle">0</text>
<text transform="translate(1791.25 834.9) scale(1 1.03)" font-size="29.8" fill="#4D4D4D" stroke="#4D4D4D" stroke-width="0.3" text-anchor="middle">0.5</text>
<text transform="translate(1920.4 834.9) scale(1 1.03)" font-size="29.8" fill="#4D4D4D" stroke="#4D4D4D" stroke-width="0.3" text-anchor="middle">1</text>
</g>
<path d="M157.5 583.2V799.1" stroke="#000" stroke-width="3" fill="none"/>
<text transform="translate(141.6 798.5) scale(1 1.03)" font-size="29.8" fill="#4D4D4D" stroke="#4D4D4D" stroke-width="0.3" text-anchor="end">0%</text>
<text transform="translate(141.6 701.8) scale(1 1.03)" font-size="29.8" fill="#4D4D4D" stroke="#4D4D4D" stroke-width="0.3" text-anchor="end">50%</text>
<text transform="translate(141.6 605.55) scale(1 1.03)" font-size="29.8" fill="#4D4D4D" stroke="#4D4D4D" stroke-width="0.3" text-anchor="end">100%</text>
<text transform="translate(1937 692.4) rotate(90) scale(1 1.015)" font-size="32.75" font-weight="bold" font-style="italic" text-anchor="middle" fill="#000" stroke="#000" stroke-width="1" stroke-linejoin="round">D5W</text>
<text transform="translate(299 26.7) scale(1 1.015)" font-size="32.75" font-weight="bold" font-style="italic" text-anchor="middle" fill="#000" stroke="#000" stroke-width="1" stroke-linejoin="round">Calcium</text>
<text transform="translate(598 26.7) scale(1 1.015)" font-size="32.75" font-weight="bold" font-style="italic" text-anchor="middle" fill="#000" stroke="#000" stroke-width="1" stroke-linejoin="round">Chloride</text>
<text transform="translate(897 26.7) scale(1 1.015)" font-size="32.75" font-weight="bold" font-style="italic" text-anchor="middle" fill="#000" stroke="#000" stroke-width="1" stroke-linejoin="round">CO2</text>
<text transform="translate(1196 26.7) scale(1 1.015)" font-size="32.75" font-weight="bold" font-style="italic" text-anchor="middle" fill="#000" stroke="#000" stroke-width="1" stroke-linejoin="round">Glucose</text>
<text transform="translate(1495 26.7) scale(1 1.015)" font-size="32.75" font-weight="bold" font-style="italic" text-anchor="middle" fill="#000" stroke="#000" stroke-width="1" stroke-linejoin="round">Potassium</text>
<text transform="translate(1794 26.7) scale(1 1.015)" font-size="32.75" font-weight="bold" font-style="italic" text-anchor="middle" fill="#000" stroke="#000" stroke-width="1" stroke-linejoin="round">Sodium</text>
<text transform="translate(32.3 411.2) rotate(-90) scale(1 1.01)" font-size="39" font-weight="bold" font-style="italic" text-anchor="middle" fill="#000" stroke="#000" stroke-width="1" stroke-linejoin="round">Percentage Incorrectly Flagged</text>
<text x="1047.5" y="895" font-size="39" font-weight="bold" font-style="italic" text-anchor="middle" fill="#000" stroke="#000" stroke-width="1" stroke-linejoin="round">Mixture Ratio</text>
<text transform="translate(183.3 172) rotate(-73.8)" font-size="30" font-weight="bold" fill="#B89E9A" stroke="#B89E9A" stroke-width="0.5" letter-spacing="-2.5">Abnormal</text>
<text x="334" y="65" font-size="29" font-weight="bold" fill="#5C3630" stroke="#5C3630" stroke-width="0.6" letter-spacing="-1.6">Critical</text>
</svg></body></html>
